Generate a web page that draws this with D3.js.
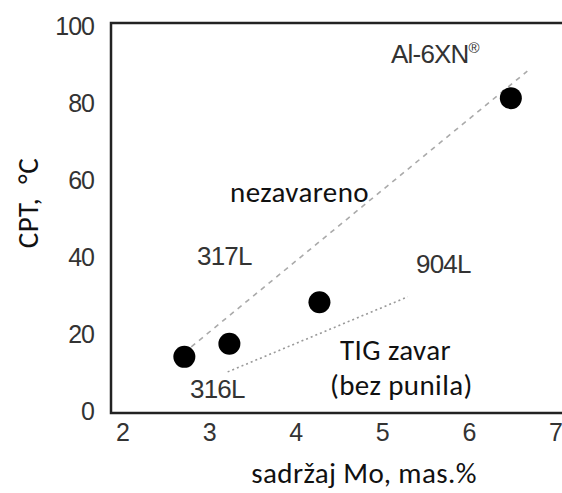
<!DOCTYPE html>
<html>
<head>
<meta charset="utf-8">
<script src="https://cdn.jsdelivr.net/npm/d3@7"></script>
<style>
  body { margin: 0; background: #fff; }
  .tick text { font-family: "Liberation Sans", Arial, sans-serif; font-size: 25px; fill: #333; letter-spacing: -1px; }
  .lbl { font-family: "Liberation Sans", Arial, sans-serif; font-size: 26px; fill: #333; letter-spacing: -0.8px; }
  .cal { font-family: Carlito, Lato, "Open Sans", sans-serif; font-size: 29px; fill: #111; letter-spacing: 0.4px; }
</style>
</head>
<body>
<div id="chart"></div>
<script>
// data
const moContent = [2.72, 3.24, 4.28, 6.49]
const cptValues = [13.8, 17.2, 28, 81]
const xTicks = [2, 3, 4, 5, 6, 7]
const yTicks = [0, 20, 40, 60, 80, 100]
const unweldedLine = [[2.8, 16.4], [6.68, 88]]   // nezavareno trend
const tigLine = [[3.22, 9.9], [5.3, 29.4]]       // TIG zavar trend

const width = 562, height = 493
const frame = { left: 111, top: 23, bottom: 413, right: 562 }

const x = d3.scaleLinear().domain([2, 7]).range([122, 555])
const y = d3.scaleLinear().domain([0, 100]).range([410, 25])

const svg = d3.select('#chart').append('svg')
  .attr('width', width)
  .attr('height', height)

// frame (right side cut off in the original)
svg.append('path')
  .attr('d', `M${frame.right},${frame.top}H${frame.left}V${frame.bottom}H${frame.right}`)
  .attr('fill', 'none')
  .attr('stroke', '#222')
  .attr('stroke-width', 2.5)

const xAxis = d3.axisBottom(x).tickValues(xTicks).tickFormat(d3.format('d')).tickSize(0).tickPadding(0)
svg.append('g')
  .attr('transform', 'translate(0,' + 441 + ')')
  .call(xAxis)
  .call(g => g.select('.domain').remove())
  .selectAll('text').attr('dy', 0)

const yAxis = d3.axisLeft(y).tickValues(yTicks).tickFormat(d3.format('d')).tickSize(0).tickPadding(0)
svg.append('g')
  .attr('transform', 'translate(' + 94 + ',0)')
  .call(yAxis)
  .call(g => g.select('.domain').remove())
  .selectAll('text').attr('dy', '0.36em')

const line = d3.line().x(d => x(d[0])).y(d => y(d[1]))

svg.append('path')
  .attr('d', line(unweldedLine))
  .attr('fill', 'none')
  .attr('stroke', '#aaa')
  .attr('stroke-width', 1.6)
  .attr('stroke-dasharray', '5,5')

svg.append('path')
  .attr('d', line(tigLine))
  .attr('fill', 'none')
  .attr('stroke', '#999')
  .attr('stroke-width', 1.6)
  .attr('stroke-dasharray', '2,3')

svg.append('g').selectAll('circle')
  .data(moContent.map((m, i) => [m, cptValues[i]]))
  .enter().append('circle')
  .attr('cx', d => x(d[0]))
  .attr('cy', d => y(d[1]))
  .attr('r', 11)
  .attr('fill', '#000')

// annotations
const al = svg.append('text').attr('class', 'lbl').attr('x', 391).attr('y', 63)
al.append('tspan').text('Al-6XN')
al.append('tspan').attr('dy', -10).attr('font-size', 15).attr('letter-spacing', 0).text('®')

svg.append('text').attr('class', 'lbl').attr('x', 197).attr('y', 265).text('317L')
svg.append('text').attr('class', 'lbl').attr('x', 416).attr('y', 273).text('904L')
svg.append('text').attr('class', 'lbl').attr('x', 190).attr('y', 398).text('316L')

svg.append('text').attr('class', 'cal').attr('x', 230).attr('y', 202).text('nezavareno')
svg.append('text').attr('class', 'cal').attr('x', 340).attr('y', 360).text('TIG zavar')
svg.append('text').attr('class', 'cal').attr('x', 330).attr('y', 395).text('(bez punila)')

svg.append('text').attr('class', 'cal')
  .attr('x', 364).attr('y', 483)
  .attr('text-anchor', 'middle')
  .attr('letter-spacing', 1)
  .text('sadržaj Mo, mas.%')

svg.append('text').attr('class', 'cal')
  .attr('transform', 'translate(' + 38 + ',' + 203 + ') rotate(-90)')
  .attr('text-anchor', 'middle')
  .attr('xml:space', 'preserve')
  .text('CPT,  °C')
</script>
</body>
</html>
